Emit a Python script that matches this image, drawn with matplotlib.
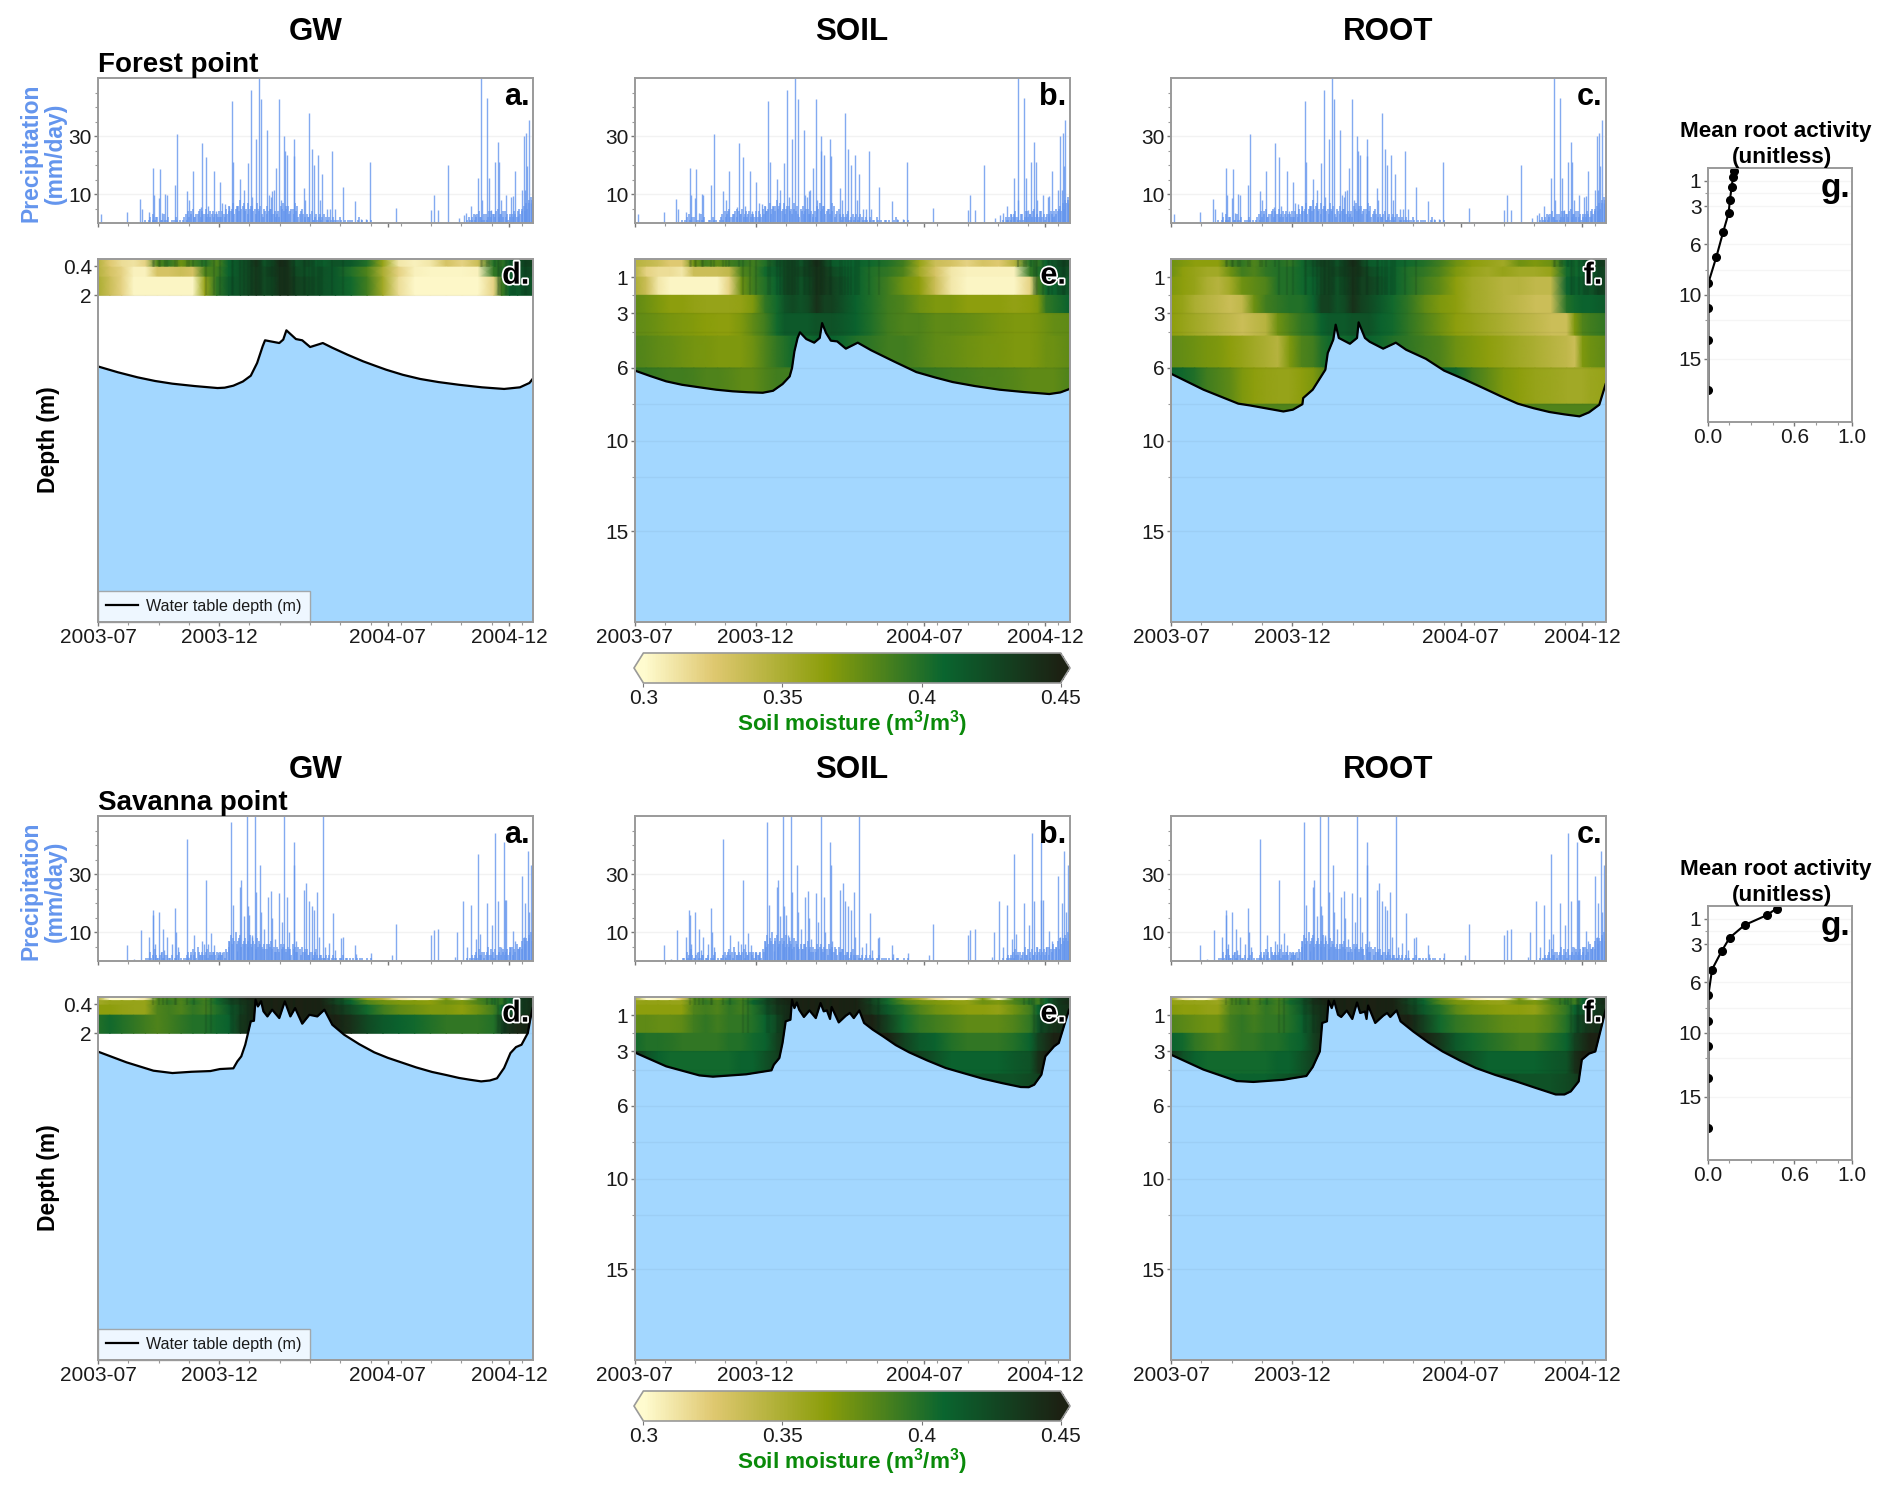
import numpy as np
import matplotlib
matplotlib.use("Agg")
import matplotlib.pyplot as plt
import matplotlib.patheffects as pe
from matplotlib.colors import LinearSegmentedColormap, Normalize
from matplotlib.cm import ScalarMappable

plt.rcParams['font.family'] = ['Liberation Sans', 'DejaVu Sans']
plt.rcParams['mathtext.fontset'] = 'custom'
plt.rcParams['mathtext.rm'] = 'Liberation Sans'
plt.rcParams['mathtext.bf'] = 'Liberation Sans:bold'

# ---------- axis content ----------
time_tick_days = [0, 153, 366, 519]
time_tick_labels = ['2003-07', '2003-12', '2004-07', '2004-12']
time_minor_days = [38.25, 76.5, 114.75, 191.25, 229.5, 267.75, 306, 344.25, 382.5, 420.75, 459, 497.25, 535.5]
columns = ['GW', 'SOIL', 'ROOT']
cbar_ticks = [0.3, 0.35, 0.4, 0.45]
cbar_labels = ['0.3', '0.35', '0.4', '0.45']
soil_nodes = [0,15,30,45,60,75,90,105,120,135,150,165,180,190,200,210,220,230,240,250,265,280,300,320,340,360,380,400,420,440,460,480,500,510,520,530,549]

# ---------- precipitation (day, mm/day) ----------
forest_rain_days = [4,37,53,55,65,70,71,77,78,81,85,87,97,100,112,115,120,130,132,137,139,146,149,154,157,161,165,169,171,175,180,184,189,193,195,199,203,206,214,216,218,220,222,225,229,231,235,236,239,247,248,260,262,266,270,273,278,281,283,289,293,296,299,309,325,332,339,344,377,421,424,430,442,456,462,465,471,476,480,484,485,492,494,497,501,505,507,509,516,522,524,527,530,535,538,540,541,542,544,547]
forest_rain_vals = [3.1,3.8,8.3,4.8,3.8,19,9.8,8.6,18.6,3.4,10,9.5,13,30.7,11,8,18,5.5,27.6,22.8,6,18,4,14,7,6.7,6,42,21,5.7,15.3,11.5,20.7,46,9,29,50,42.8,32,9.8,9,11,11.3,19,42.8,8,30,25,23.6,29,23,12,8,38,25.6,20,23.6,8,17,5,5,25,5,12.4,7.7,1.4,1.5,21,5.2,4.4,9.5,4.6,20,1.7,2.9,3.4,5.7,3,15.5,50,8,43,15.5,4.5,21,28,21,8,9.8,9,9.4,18,2.3,11.5,30,11.5,31,19.5,35.6,7]
forest_small_mid = [1,0,2,3,1,2,0,1,3,1,0,0,1,2,0,0,1,3,4,3,5,2,3,5,4,3,2,4,3,2,3,4,2,3,5,6,4,7,5,6,8,6,4,7,5,6,5,7,4,3,5,6,4,5,3,2,4,6,7,5,6,4,5,7,6,3,5,2,3,2,4,1,3,2,1,3,2,1,1,2,0,1,2,0,1,0,1,1,0,0,2,1,0,0,0,1]
forest_small_mid2 = [0,1,0,1,2,0,1,0,1,2,0,1,0,1,1,0,2,1,2,4,2,3,4,2,3,5,3,2,4,3,2,2,4,2,3,4,5,3,6,4,5,7,5,3,6,4,3,5,6,2,4,3,5,3,4,3,2,5,4,6,3,5,3,4,2,4,3,1,2,3,1,2,1,3,2,0,1,2,0,1,1,0,1,0,0,1,0,0,0,1,0,0,0,1,0,0]
forest_small_end = [1,2,1,3,2,4,2,1,3,2,4,3,2,5,3,2,4,3,2,3,4,2,5,4,6,7,8,9]
forest_small_end2 = [0,1,2,1,3,2,1,3,1,4,2,3,4,2,3,4,2,1,3,2,3,4,3,5,4,5,7,8]

savanna_rain_days = [4,10,37,46,54,65,69,70,72,77,79,82,84,87,93,97,98,101,112,114,121,131,134,137,139,143,147,152,154,157,165,168,170,176,180,181,184,188,189,191,194,195,198,199,205,206,210,215,219,220,223,229,232,235,239,241,247,248,250,260,263,266,270,273,277,279,284,287,292,297,300,307,309,325,326,345,350,359,372,377,421,424,430,451,454,461,466,471,477,480,482,492,498,502,505,509,513,514,516,520,524,527,532,535,538,540,543,545,547]
savanna_rain_vals = [0.5,0.5,5.4,0.8,10.6,8.3,17.7,15.7,6,17,3,11,3.7,8.3,5.7,18.3,10,4.8,42,1.4,8.9,7,6,28,6,9.7,5.5,3.1,3.1,3.1,7,48,19.4,3.6,25.5,27.8,15.4,50,19,16,8.9,8.3,50,23.7,33,17,11,22,24,15,7.7,23.6,13.4,50,22,10,41,33,7,24.4,27,20.6,19,17.5,23.8,8.3,50,4.8,6.3,16.7,3.7,8,8.3,5.4,2.5,2.9,0.5,0.5,2,12.9,9,10.6,11,1.4,10,20.7,4.8,19.4,7.7,37,9.4,20,12.5,44,20.6,4.8,41,21,21,4.8,10.3,7,4.8,29.4,8.3,20,38,17,33]
savanna_small_mid = [0,1,3,2,4,1,2,3,1,2,1,2,0,1,3,1,0,1,3,2,4,3,5,2,3,2,4,3,2,3,3,2,2,3,4,7,9,8,10,7,9,6,8,7,9,5,6,8,7,5,6,4,6,7,5,3,4,6,5,4,5,4,6,5,3,4,5,3,4,2,3,2,4,1,2,1,2,1,0,2,1,0,1,2,0,1,1,0,0,1,0,1,0,0,0,1]
savanna_small_mid2 = [1,0,1,0,2,1,0,1,2,0,1,0,1,2,0,0,1,2,1,3,2,1,3,2,2,3,1,2,3,2,1,3,2,1,3,5,6,7,6,8,5,7,6,5,6,7,4,5,6,4,4,6,5,4,3,5,3,4,6,3,4,2,4,3,5,2,3,4,2,3,1,3,2,2,1,1,0,2,1,0,1,0,1,0,1,0,0,1,0,0,1,0,0,1,0,0]
savanna_small_end = [1,0,2,1,3,4,2,3,2,5,2,3,4,2,5,3,2,4,3,5,4,6,4,7,8,8,9,10]
savanna_small_end2 = [0,1,1,2,1,2,3,1,3,2,4,1,2,3,2,4,3,2,5,2,3,4,5,4,6,7,8,7]

# ---------- water table depth (day, m) ----------
forest_gw_days = [0,25,50,72,94,122,151,160,171,183,193,201,208,211,229,234,238,250,258,268,284,296,315,335,350,364,385,407,430,456,485,513,533,545,549]
forest_gw_wt = [5.92,6.24,6.52,6.72,6.87,7.0,7.11,7.09,6.98,6.75,6.43,5.73,4.81,4.48,4.63,4.44,3.93,4.41,4.48,4.85,4.63,4.89,5.27,5.64,5.88,6.1,6.38,6.61,6.78,6.93,7.07,7.16,7.07,6.83,6.61]
forest_soil_days = [0,20,40,60,82,103,124,143,162,175,187,196,199,202,206,209,217,227,234,237,242,248,256,267,282,299,328,356,380,402,430,461,492,524,538,549]
forest_soil_wt = [6.14,6.45,6.74,6.93,7.07,7.2,7.29,7.34,7.37,7.26,6.89,6.47,6.0,5.09,4.35,4.04,4.41,4.61,4.35,3.53,4.08,4.5,4.54,4.94,4.61,5.03,5.65,6.23,6.53,6.78,7.0,7.2,7.33,7.44,7.35,7.17]
forest_root_days = [0,41,85,100,142,154,166,167,179,195,198,205,208,212,226,235,237,245,251,268,284,297,322,345,370,394,416,438,458,478,497,516,528,541,549]
forest_root_wt = [6.32,7.2,7.97,8.07,8.4,8.3,8.0,7.66,7.2,6.1,5.18,4.44,3.62,4.35,4.67,4.35,3.49,4.35,4.56,4.94,4.61,5.0,5.5,6.15,6.62,7.1,7.55,7.97,8.22,8.43,8.56,8.67,8.45,8.03,6.9]

savanna_gw_days = [0,36,70,94,118,142,154,171,176,181,186,190,193,197,199,202,206,209,214,220,229,236,243,249,258,267,277,286,296,311,330,349,366,383,402,422,440,456,470,484,495,504,513,521,528,535,543,546,549]
savanna_gw_wt = [3.01,3.6,4.06,4.19,4.12,4.08,3.97,3.93,3.55,3.27,2.63,1.9,1.34,1.31,0.15,0.52,0.23,0.79,1.07,0.7,1.16,0.24,1.07,0.61,1.47,0.98,1.07,0.7,1.53,2.08,2.6,3.05,3.35,3.6,3.88,4.13,4.3,4.46,4.56,4.65,4.6,4.48,3.91,3.09,2.76,2.63,1.98,1.25,0.61]
savanna_soil_days = [0,40,82,99,141,173,176,183,187,191,197,199,202,205,208,214,221,229,235,239,243,247,249,258,267,272,277,284,290,301,314,330,347,370,393,416,440,465,488,498,505,514,519,530,536,545,549]
savanna_soil_wt = [3.05,3.82,4.32,4.39,4.26,4.04,3.73,3.36,2.53,1.34,1.25,0.15,0.61,0.3,0.7,1.1,0.74,1.16,0.33,0.79,0.74,1.21,0.55,1.4,1.03,0.88,1.16,0.74,1.43,1.8,2.17,2.65,3.05,3.5,3.91,4.2,4.5,4.75,4.96,4.97,4.83,4.28,3.27,2.72,2.53,1.25,0.7]
savanna_root_days = [0,41,83,104,142,171,179,188,191,197,199,203,206,211,215,222,229,235,239,245,247,249,258,268,273,277,285,290,306,325,343,365,385,410,436,460,486,497,505,515,519,528,536,545,549]
savanna_root_wt = [3.18,4.0,4.63,4.68,4.56,4.35,3.86,3.0,1.43,1.34,0.2,0.61,0.2,0.98,1.1,0.75,1.21,0.3,0.88,0.8,1.21,0.47,1.43,1.03,0.88,1.1,0.74,1.34,1.9,2.5,3.0,3.5,3.91,4.3,4.65,5.0,5.37,5.37,5.2,4.65,3.45,3.12,3.0,1.43,0.7]

# ---------- soil moisture per layer (m3/m3) at soil_nodes ----------
forest_gw_edges = [0, 0.45, 1, 2]
forest_gw_l1 = [.345,.325,.315,.312,.320,.385,.395,.375,.39,.40,.385,.41,.42,.425,.44,.42,.425,.445,.44,.42,.425,.41,.42,.415,.40,.36,.31,.305,.31,.33,.32,.335,.40,.395,.415,.42,.43]
forest_gw_l2 = [.345,.33,.32,.305,.305,.33,.33,.335,.33,.385,.39,.41,.42,.425,.435,.425,.43,.44,.44,.425,.42,.42,.415,.40,.385,.35,.32,.305,.303,.303,.303,.305,.395,.40,.41,.415,.425]
forest_gw_l3 = [.35,.335,.32,.303,.303,.303,.303,.303,.303,.36,.395,.415,.42,.425,.435,.425,.425,.44,.44,.43,.425,.42,.415,.405,.39,.355,.315,.302,.302,.302,.302,.302,.32,.39,.41,.415,.42]

forest_edges = [0, 0.45, 1, 2, 3, 4.25, 6, 8, 10]
forest_soil_l1 = [.345,.34,.335,.325,.325,.375,.39,.38,.39,.395,.39,.40,.42,.425,.43,.42,.43,.445,.43,.415,.41,.41,.405,.40,.39,.36,.335,.33,.32,.33,.325,.345,.40,.395,.41,.42,.43]
forest_soil_l2 = [.345,.32,.315,.315,.31,.335,.335,.335,.34,.385,.39,.405,.415,.425,.43,.425,.43,.44,.435,.425,.415,.41,.40,.395,.385,.355,.33,.31,.305,.305,.305,.305,.395,.40,.41,.415,.425]
forest_soil_l3 = [.35,.335,.31,.303,.303,.303,.303,.303,.32,.375,.39,.40,.41,.425,.43,.42,.425,.44,.435,.43,.42,.41,.40,.39,.375,.365,.335,.31,.303,.303,.303,.303,.32,.39,.405,.41,.42]
forest_soil_l4 = [.38,.375,.37,.365,.365,.362,.36,.36,.36,.362,.37,.395,.405,.42,.425,.42,.425,.44,.43,.43,.42,.41,.40,.39,.385,.375,.37,.37,.365,.365,.365,.362,.365,.37,.395,.40,.41]
forest_soil_l5 = [.38,.378,.375,.372,.37,.368,.366,.365,.365,.37,.38,.39,.405,.415,.415,.415,.415,.42,.42,.42,.415,.41,.40,.39,.385,.385,.38,.38,.378,.375,.372,.37,.37,.372,.375,.378,.38]
forest_soil_l6 = [.385,.383,.38,.378,.375,.373,.372,.37,.37,.37,.375,.385,.395,.40,.405,.405,.405,.41,.41,.41,.405,.40,.395,.39,.39,.385,.38,.378,.375,.373,.372,.37,.37,.372,.375,.376,.38]
forest_soil_l7 = [.395,.394,.392,.39,.39,.388,.385,.385,.383,.38,.38,.385,.39,.39,.39,.39,.39,.39,.39,.39,.39,.39,.39,.39,.395,.395,.393,.39,.388,.386,.385,.383,.38,.38,.38,.38,.385]
forest_soil_l8 = [.39,.39,.39,.39,.39,.39,.39,.39,.39,.39,.39,.39,.39,.39,.39,.39,.39,.39,.39,.39,.39,.39,.39,.39,.39,.39,.39,.39,.39,.39,.39,.39,.39,.39,.39,.39,.39]

forest_root_l1 = [.375,.37,.365,.365,.365,.39,.395,.385,.395,.40,.395,.405,.42,.43,.43,.42,.43,.445,.43,.415,.41,.41,.405,.40,.39,.375,.365,.36,.355,.375,.37,.375,.41,.405,.415,.42,.435]
forest_root_l2 = [.375,.365,.36,.355,.355,.375,.39,.385,.395,.40,.40,.405,.415,.425,.43,.425,.43,.44,.435,.425,.415,.41,.40,.395,.385,.37,.36,.355,.36,.355,.355,.36,.405,.405,.41,.415,.43]
forest_root_l3 = [.37,.365,.36,.35,.345,.355,.375,.38,.385,.40,.40,.405,.41,.425,.43,.42,.425,.44,.43,.43,.42,.41,.40,.39,.38,.365,.355,.35,.345,.345,.34,.34,.41,.41,.415,.42,.43]
forest_root_l4 = [.365,.36,.35,.345,.34,.335,.34,.375,.39,.395,.40,.40,.41,.43,.43,.42,.425,.44,.43,.425,.415,.405,.395,.38,.37,.365,.355,.35,.345,.34,.335,.335,.40,.405,.41,.41,.415]
forest_root_l5 = [.365,.36,.355,.35,.345,.34,.335,.34,.345,.375,.385,.395,.40,.41,.415,.415,.415,.42,.42,.42,.41,.405,.395,.385,.375,.365,.36,.355,.35,.345,.34,.335,.335,.37,.385,.39,.395]
forest_root_l6 = [.38,.378,.375,.372,.37,.365,.36,.355,.35,.345,.37,.385,.39,.40,.405,.405,.405,.41,.41,.41,.405,.40,.395,.39,.385,.375,.37,.365,.36,.355,.35,.345,.34,.335,.37,.375,.38]
forest_root_l7 = [.41,.405,.40,.39,.385,.38,.37,.365,.362,.36,.36,.365,.37,.38,.39,.39,.39,.39,.39,.39,.39,.39,.39,.40,.41,.405,.39,.38,.37,.365,.36,.358,.355,.355,.355,.358,.36]
forest_root_l8 = [.385,.385,.385,.385,.385,.385,.385,.385,.385,.385,.385,.385,.385,.385,.385,.385,.385,.385,.385,.385,.385,.385,.385,.385,.385,.385,.385,.385,.385,.385,.385,.385,.385,.385,.385,.385,.385]

savanna_gw_edges = [0, 0.2, 0.45, 1, 2]
savanna_gw_l0 = [.345,.30,.30,.30,.31,.385,.39,.385,.395,.385,.405,.43,.44,.45,.45,.45,.45,.45,.45,.45,.45,.45,.43,.40,.36,.345,.31,.30,.30,.37,.30,.385,.40,.395,.41,.43,.44]
savanna_gw_l1 = [.355,.36,.36,.36,.36,.385,.395,.385,.40,.39,.405,.425,.435,.44,.45,.45,.45,.45,.45,.45,.45,.45,.43,.41,.385,.375,.37,.368,.365,.375,.37,.385,.40,.395,.41,.43,.44]
savanna_gw_l2 = [.365,.365,.362,.36,.36,.385,.39,.385,.395,.39,.40,.415,.43,.44,.45,.45,.45,.45,.45,.45,.45,.45,.44,.425,.405,.39,.38,.375,.37,.37,.365,.375,.39,.41,.42,.43,.44]
savanna_gw_l3 = [.40,.405,.40,.395,.39,.385,.39,.395,.40,.40,.405,.41,.435,.44,.45,.45,.45,.45,.45,.45,.45,.45,.45,.44,.425,.415,.41,.405,.40,.395,.395,.395,.40,.43,.44,.445,.45]

savanna_edges = [0, 0.2, 0.45, 1, 2, 3, 4.25, 6]
savanna_soil_l0 = [.35,.30,.30,.30,.33,.385,.39,.375,.395,.385,.40,.42,.44,.45,.45,.45,.45,.45,.45,.45,.45,.45,.43,.405,.375,.35,.315,.30,.30,.37,.30,.385,.395,.39,.41,.43,.44]
savanna_soil_l1 = [.36,.362,.362,.36,.36,.385,.395,.385,.40,.39,.41,.425,.44,.445,.45,.45,.45,.45,.45,.45,.45,.45,.43,.405,.385,.375,.37,.365,.362,.375,.37,.385,.40,.39,.41,.43,.445]
savanna_soil_l2 = [.365,.365,.365,.365,.365,.385,.39,.385,.395,.39,.40,.42,.435,.44,.45,.45,.45,.45,.45,.45,.45,.45,.435,.415,.40,.385,.375,.37,.365,.365,.362,.375,.39,.41,.42,.43,.44]
savanna_soil_l3 = [.38,.38,.378,.378,.38,.39,.395,.39,.395,.395,.40,.41,.425,.44,.45,.45,.45,.45,.45,.45,.45,.45,.45,.43,.405,.395,.39,.385,.38,.38,.38,.385,.395,.42,.43,.44,.44]
savanna_soil_l4 = [.405,.40,.40,.398,.395,.395,.395,.395,.40,.40,.405,.41,.43,.44,.45,.45,.45,.45,.45,.45,.45,.45,.45,.45,.43,.415,.41,.40,.395,.395,.395,.40,.41,.43,.44,.45,.45]
savanna_soil_l5 = [.44,.42,.41,.405,.405,.405,.405,.405,.405,.41,.41,.42,.43,.44,.45,.45,.45,.45,.45,.45,.45,.45,.45,.45,.44,.43,.42,.41,.41,.41,.41,.415,.42,.44,.45,.45,.45]
savanna_soil_l6 = [.43,.425,.42,.415,.41,.41,.41,.41,.41,.415,.42,.425,.43,.44,.44,.44,.44,.44,.44,.44,.44,.44,.44,.44,.44,.44,.43,.425,.42,.42,.42,.42,.425,.43,.44,.44,.44]

savanna_root_l0 = [.355,.31,.30,.30,.34,.385,.39,.375,.395,.385,.40,.415,.44,.45,.45,.45,.45,.45,.45,.45,.45,.45,.43,.405,.38,.355,.31,.30,.30,.37,.30,.385,.395,.39,.41,.43,.44]
savanna_root_l1 = [.362,.362,.36,.36,.358,.385,.395,.385,.40,.39,.405,.42,.44,.445,.45,.45,.45,.45,.45,.45,.45,.45,.43,.41,.385,.372,.368,.362,.36,.375,.37,.385,.40,.39,.41,.43,.445]
savanna_root_l2 = [.368,.365,.365,.362,.362,.385,.39,.385,.395,.39,.40,.415,.435,.44,.45,.45,.45,.45,.45,.45,.45,.45,.435,.415,.40,.382,.372,.368,.365,.365,.362,.38,.395,.41,.42,.43,.44]
savanna_root_l3 = [.385,.382,.378,.375,.375,.39,.395,.39,.395,.395,.40,.41,.43,.44,.45,.45,.45,.45,.45,.45,.45,.45,.45,.43,.405,.395,.39,.385,.38,.378,.378,.385,.40,.42,.43,.44,.44]
savanna_root_l4 = [.41,.405,.395,.39,.385,.39,.395,.395,.40,.40,.405,.41,.43,.44,.45,.45,.45,.45,.45,.45,.45,.45,.45,.45,.435,.415,.405,.40,.395,.39,.39,.40,.41,.43,.44,.45,.45]
savanna_root_l5 = [.44,.42,.41,.405,.405,.405,.405,.405,.405,.41,.41,.42,.43,.44,.45,.45,.45,.45,.45,.45,.45,.45,.45,.45,.44,.43,.42,.41,.41,.41,.41,.415,.42,.44,.45,.45,.45]
savanna_root_l6 = [.43,.425,.42,.415,.41,.41,.41,.41,.41,.415,.42,.425,.43,.44,.44,.44,.44,.44,.44,.44,.44,.44,.44,.44,.44,.44,.435,.43,.425,.42,.42,.42,.425,.43,.44,.44,.44]

# ---------- mean root activity ----------
root_depths = [0.2, 0.73, 1.5, 2.5, 3.55, 5.0, 7.0, 9.03, 11.0, 13.55, 17.5]
forest_activity = [.184, .175, .166, .154, .145, .108, .06, .005, .005, .005, .005]
savanna_activity = [.477, .408, .256, .152, .097, .03, .005, .005, .005, .005, .005]

# ---------- styling ----------
W, H = 1892, 1494
cmap = LinearSegmentedColormap.from_list('soil', [(0, '#FFFBCF'), (.167, '#DFC870'), (.44, '#8A9D0A'), (.72, '#0A652F'), (1, '#1C2113')])
cmap.set_under('#FFFBCF'); cmap.set_over('#1C2113')
norm = Normalize(0.3, 0.45)
BLUE = '#A3D7FF'; RAIN = '#6495ED'; SPINE = '#9A9A9A'; TXT = '#1A1A1A'

fig = plt.figure(figsize=(W / 100, H / 100), dpi=100)

def axpx(x0, y0, x1, y1):
    return fig.add_axes([x0 / W, 1 - y1 / H, (x1 - x0) / W, (y1 - y0) / H])

def tpx(x, y, s, **kw):
    kw.setdefault('ha', 'center'); kw.setdefault('va', 'center')
    return fig.text(x / W, 1 - y / H, s, **kw)

def style(ax):
    for s in ax.spines.values():
        s.set_color(SPINE); s.set_linewidth(1.4); s.set_zorder(6)
    ax.tick_params(which='major', length=3, width=1, color='#777777', labelsize=15, labelcolor=TXT, pad=1.5)
    ax.tick_params(which='minor', length=2, width=0.8, color='#999999')

def time_axis(ax, labels):
    ax.set_xlim(0, 549.5)
    ax.set_xticks(time_tick_days)
    ax.set_xticks(time_minor_days, minor=True)
    ax.set_xticklabels(time_tick_labels if labels else [])

def rain_panel(ax, days, vals, mid, mid2, end, end2, letter):
    style(ax)
    ax.vlines(days, 0, vals, color=RAIN, lw=1.0, alpha=0.8, zorder=3)
    ax.vlines(list(range(60, 60 + 3 * len(mid), 3)), 0, mid, color=RAIN, lw=1.1, alpha=0.9, zorder=3)
    ax.vlines(list(range(61, 61 + 3 * len(mid2), 3)), 0, mid2, color=RAIN, lw=1.1, alpha=0.9, zorder=3)
    ax.vlines(list(range(466, 466 + 3 * len(end), 3)), 0, end, color=RAIN, lw=1.1, alpha=0.9, zorder=3)
    ax.vlines(list(range(467, 467 + 3 * len(end2), 3)), 0, end2, color=RAIN, lw=1.1, alpha=0.9, zorder=3)
    ax.set_ylim(0, 50)
    time_axis(ax, False)
    ax.set_yticks([10, 30])
    ax.set_yticks([5, 15, 20, 25, 35, 40, 45], minor=True)
    ax.grid(True, which='major', axis='y', color='#000000', alpha=0.05, lw=1)
    ax.set_axisbelow(True)
    ax.text(0.992, 0.87, letter, transform=ax.transAxes, ha='right', va='center', fontsize=22, fontweight='bold', color='k')

def depth_panel(ax, edges, layers, wt_days, wt, letter, gw, legend, rain_days, rain_vals):
    style(ax)
    x = np.array(soil_nodes, float)
    for i, lay in enumerate(layers):
        X = np.array([x, x])
        Y = np.array([[edges[i]] * len(x), [edges[i + 1]] * len(x)], float)
        C = np.array([lay, lay], float)
        ax.pcolormesh(X, Y, C, shading='gouraud', cmap=cmap, norm=norm, zorder=1, rasterized=True)
    # wet-day streaks follow the rain events
    for d, v in zip(rain_days, rain_vals):
        if v >= 8 and (70 <= d <= 335 or d >= 484):
            deep = 2 if (135 <= d <= 320 or d >= 505) else 0.45
            ax.vlines(d, 0, deep, color='#0B2A18', lw=1.6, alpha=0.16, zorder=1.5)
    ax.fill_between(wt_days, wt, 20, color=BLUE, lw=0, zorder=2)
    ax.plot(wt_days, wt, color='k', lw=1.6, zorder=4, label='Water table depth (m)')
    ax.set_ylim(20, 0)
    time_axis(ax, True)
    if gw:
        ax.set_yticks([0.4, 2]); ax.set_yticklabels(['0.4', '2'])
        ax.set_yticks([], minor=True)
        ax.hlines([2], 0, 549.5, color='#000000', alpha=0.04, lw=1, zorder=3)
    else:
        ax.set_yticks([1, 3, 6, 10, 15])
        ax.set_yticks([2, 4, 8, 12], minor=True)
        ax.hlines([3, 4, 6, 8, 10, 12, 15], 0, 549.5, color='#000000', alpha=0.04, lw=1, zorder=3)
    t = ax.text(0.992, 0.954, letter, transform=ax.transAxes, ha='right', va='center', fontsize=22, fontweight='bold', color='k', zorder=7)
    t.set_path_effects([pe.withStroke(linewidth=2.5, foreground='white')])
    if legend:
        lg = ax.legend(loc='lower left', bbox_to_anchor=(0, 0), borderaxespad=0, fancybox=False, framealpha=0.82,
                       edgecolor=SPINE, fontsize=11.6, handlelength=2.0, borderpad=0.5, handletextpad=0.5)
        lg.set_zorder(5)
        for tx in lg.get_texts():
            tx.set_color(TXT)

col_x = [(98, 533), (634.5, 1069.5), (1171, 1606)]

sections = [
    dict(off=0, name='Forest point', rain=(forest_rain_days, forest_rain_vals), small=(forest_small_mid, forest_small_mid2, forest_small_end, forest_small_end2),
         panels=[(forest_gw_edges, [forest_gw_l1, forest_gw_l2, forest_gw_l3], forest_gw_days, forest_gw_wt),
                 (forest_edges, [forest_soil_l1, forest_soil_l2, forest_soil_l3, forest_soil_l4, forest_soil_l5, forest_soil_l6, forest_soil_l7, forest_soil_l8], forest_soil_days, forest_soil_wt),
                 (forest_edges, [forest_root_l1, forest_root_l2, forest_root_l3, forest_root_l4, forest_root_l5, forest_root_l6, forest_root_l7, forest_root_l8], forest_root_days, forest_root_wt)],
         activity=forest_activity),
    dict(off=738, name='Savanna point', rain=(savanna_rain_days, savanna_rain_vals), small=(savanna_small_mid, savanna_small_mid2, savanna_small_end, savanna_small_end2),
         panels=[(savanna_gw_edges, [savanna_gw_l0, savanna_gw_l1, savanna_gw_l2, savanna_gw_l3], savanna_gw_days, savanna_gw_wt),
                 (savanna_edges, [savanna_soil_l0, savanna_soil_l1, savanna_soil_l2, savanna_soil_l3, savanna_soil_l4, savanna_soil_l5, savanna_soil_l6], savanna_soil_days, savanna_soil_wt),
                 (savanna_edges, [savanna_root_l0, savanna_root_l1, savanna_root_l2, savanna_root_l3, savanna_root_l4, savanna_root_l5, savanna_root_l6], savanna_root_days, savanna_root_wt)],
         activity=savanna_activity),
]

for sec in sections:
    o = sec['off']
    rd, rv = sec['rain']
    for j, (x0, x1) in enumerate(col_x):
        tpx((x0 + x1) / 2, 32 + o, columns[j], fontsize=22.5, fontweight='bold', color='k')
        a = axpx(x0, 78 + o, x1, 223 + o)
        rain_panel(a, rd, rv, *sec['small'], 'abc'[j] + '.')
        d = axpx(x0, 259 + o, x1, 622 + o)
        e, l, dd, w = sec['panels'][j]
        depth_panel(d, e, l, dd, w, 'def'[j] + '.', j == 0, j == 0, rd, rv)
    tpx(98, 65 + o, sec['name'], fontsize=20, fontweight='bold', color='k', ha='left')
    tpx(43, 153 + o, 'Precipitation\n(mm/day)', fontsize=16.5, fontweight='bold', color=RAIN, rotation=90, linespacing=1.08)
    tpx(48, 440 + o, 'Depth (m)', fontsize=16.5, fontweight='bold', color='k', rotation=90)

    g = axpx(1707.7, 168 + o, 1852, 422 + o)
    style(g)
    g.plot(sec['activity'], root_depths, color='k', lw=1.5, marker='o', ms=5.5, zorder=4)
    g.set_xlim(0, 1); g.set_ylim(20, 0)
    g.set_xticks([0, 0.6, 1]); g.set_xticklabels(['0.0', '0.6', '1.0'])
    g.set_xticks([.15, .3, .45, .75, .9], minor=True)
    g.set_yticks([1, 3, 6, 10, 15])
    g.set_yticks([2, 8, 12], minor=True)
    g.grid(True, which='both', axis='y', color='#000000', alpha=0.04, lw=1)
    g.set_axisbelow(True)
    g.text(0.985, 0.92, 'g.', transform=g.transAxes, ha='right', va='center', fontsize=24, fontweight='bold', color='k')
    tpx(1776, 132 + o, 'Mean root activity', fontsize=16.2, fontweight='bold', color='k')
    tpx(1782, 157 + o, '(unitless)', fontsize=16.2, fontweight='bold', color='k')

    cax = axpx(634, 653 + o, 1070, 683 + o)
    cb = fig.colorbar(ScalarMappable(norm=norm, cmap=cmap), cax=cax, orientation='horizontal', extend='both', extendfrac=0.0225)
    cb.set_ticks(cbar_ticks); cb.set_ticklabels(cbar_labels)
    cb.minorticks_off()
    cb.outline.set_edgecolor(SPINE); cb.outline.set_linewidth(1.2)
    cax.tick_params(length=3, width=0.8, color='#777777', labelsize=15, labelcolor=TXT, pad=1.5)
    tpx(852, 724 + o, r'Soil moisture (m$\mathbf{^3}$/m$\mathbf{^3}$)', fontsize=16.2, fontweight='bold', color='#0A8A0A')

fig.savefig('out.png', dpi=100)
